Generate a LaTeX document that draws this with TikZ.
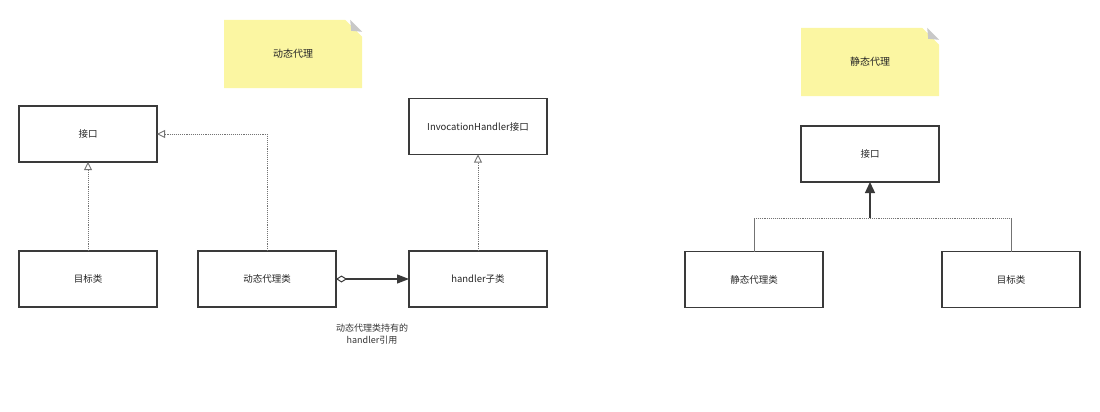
\documentclass[tikz,border=0pt]{standalone}
\usepackage{fontspec}
\setmainfont{Noto Sans CJK SC}
\usetikzlibrary{positioning,calc,arrows.meta,shapes.misc}
\definecolor{noteyellow}{HTML}{FBF6A2}
\definecolor{boxline}{HTML}{3A3A3A}
\definecolor{foldgray}{HTML}{C8C8C8}

\begin{document}
\begin{tikzpicture}[x=1pt,y=-1pt,>=Stealth,node distance=41pt and 41pt]
\tikzstyle{B}=[draw=boxline,line width=1.1pt,fill=white,minimum width=138pt,minimum height=56pt,inner sep=0pt,outer sep=0pt,text=black!85,font=\fontsize{9.5}{11}\selectfont]
\tikzstyle{N}=[fill=noteyellow,chamfered rectangle,chamfered rectangle corners=north east,chamfered rectangle xsep=12pt,chamfered rectangle ysep=12pt,minimum width=138pt,minimum height=68pt,inner sep=0pt,text=black!85,font=\fontsize{10}{12}\selectfont]
\tikzstyle{impl}=[densely dotted,line width=0.9pt,draw=black!55,-{Triangle[open,length=8pt,width=8pt,line width=0.9pt]}]
\useasboundingbox (0,0) rectangle (1100,412);
% dynamic proxy
\node[N] (dnote) at (293,54) {动态代理};
\node[B] (iface) at (88,134) {接口};
\node[B] (tgt) at (88,279) {目标类};
\node[B,right=41pt of tgt] (dyn) {动态代理类};
\node[B,right=73pt of dyn] (hsub) {handler子类};
\node[B] (ih) at (478,126.5) {InvocationHandler接口};
\node[align=center,text=black!80,font=\fontsize{9}{12}\selectfont] (hold) at (372,334) {动态代理类持有的\\handler引用};
\draw[impl] (tgt) -- (iface);
\draw[impl] (dyn.north) |- (iface.east);
\draw[impl] (hsub) -- (ih);
\draw[line width=1.2pt,draw=boxline,{Diamond[open,length=11pt,width=7pt,line width=1pt]}-{Triangle[length=12pt,width=9pt]}] (dyn) -- (hsub);
% static proxy
\node[N] (snote) at (870,62) {静态代理};
\node[B] (siface) at (870,154) {接口};
\node[B] (sproxy) at (754,279.5) {静态代理类};
\node[B] (stgt) at (1011,279.5) {目标类};
\coordinate (join) at (870,218);
\draw[line width=0.8pt,draw=black!55] (sproxy.north) -- (sproxy.north |- join);
\draw[line width=0.8pt,draw=black!55] (stgt.north) -- (stgt.north |- join);
\draw[densely dotted,line width=0.9pt,draw=black!55] (sproxy.north |- join) -- (stgt.north |- join);
\draw[line width=1.3pt,draw=boxline,-{Triangle[length=11pt,width=10pt]}] (join) -- (siface);
% folded corners
\foreach \n in {dnote,snote}
  \fill[foldgray] ($(\n.east |- \n.north)+(-12,0)$) -- ($(\n.east |- \n.north)+(0,12)$) -- ($(\n.east |- \n.north)+(-11,11)$) -- cycle;
\end{tikzpicture}
\end{document}
